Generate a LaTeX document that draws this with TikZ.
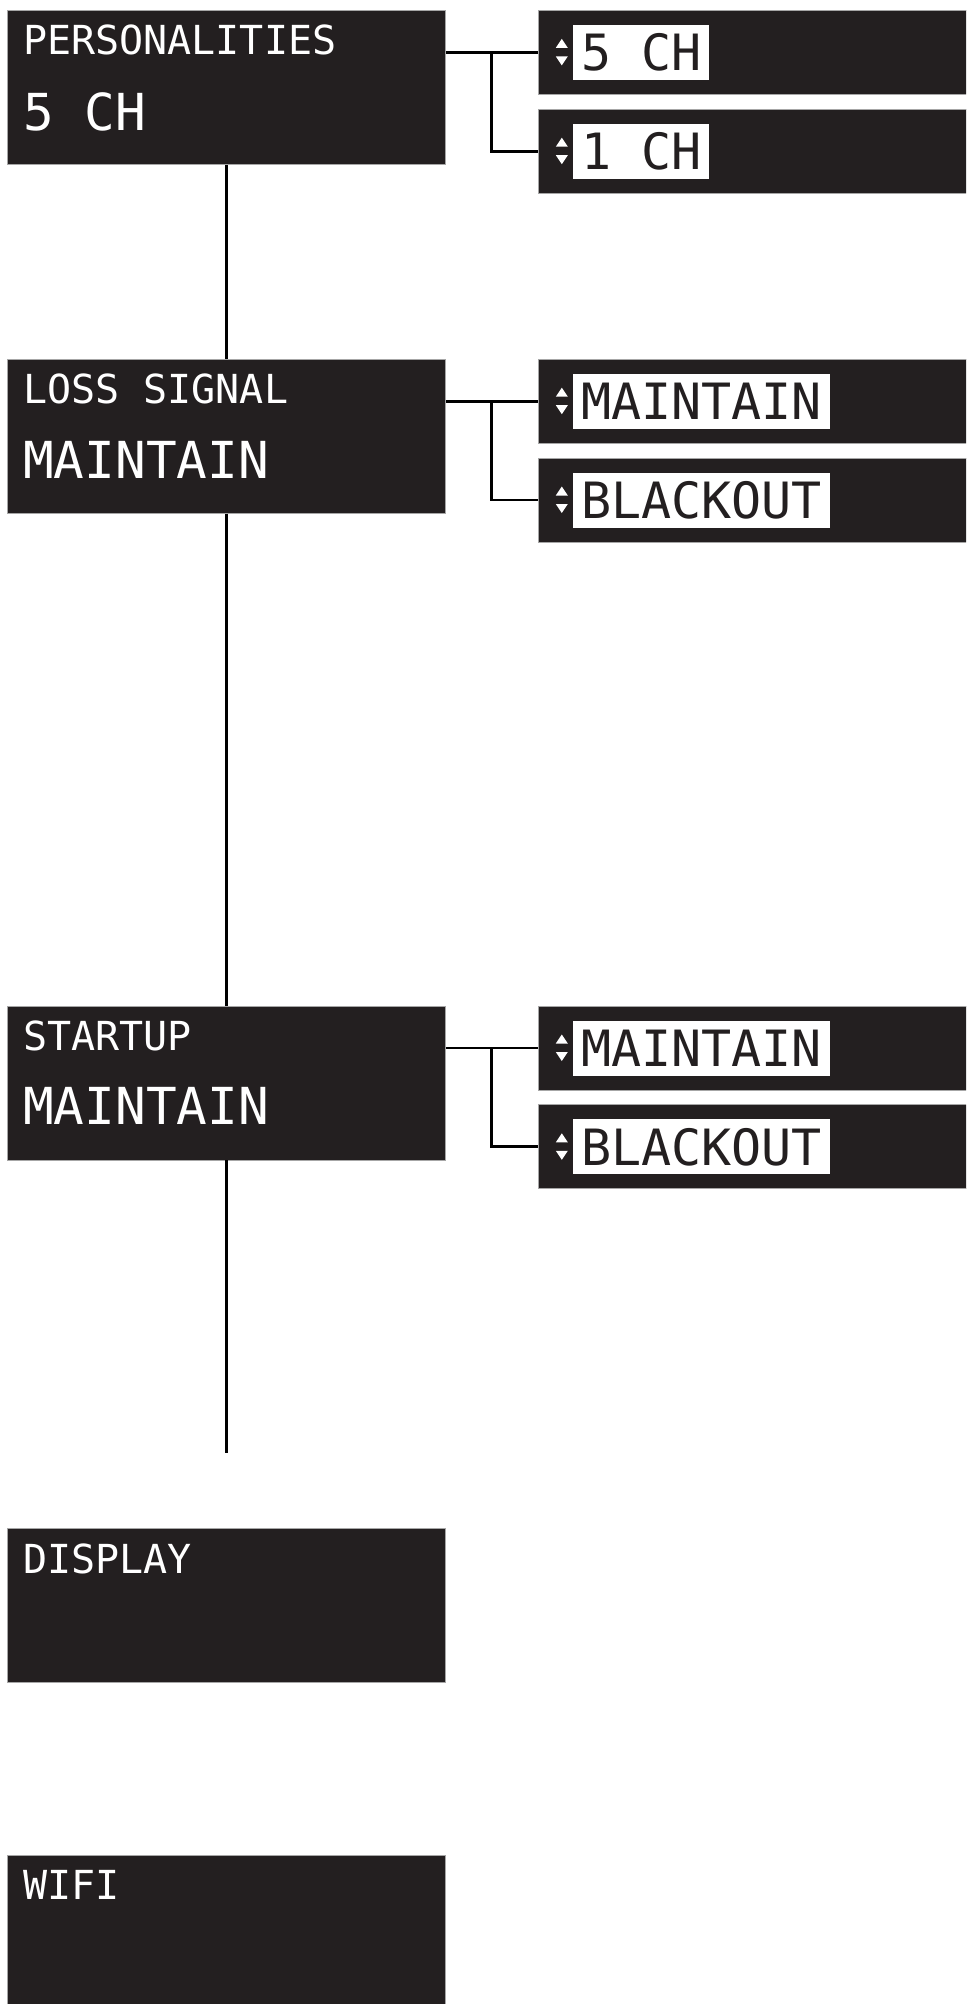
\documentclass[tikz,border=0pt]{standalone}
\usepackage{fontspec}
\usepackage{xcolor}
\usetikzlibrary{positioning,calc}
\newfontfamily\lcd{DejaVu Sans Mono}
\definecolor{lcdbg}{HTML}{231F20}

\begin{document}
\begin{tikzpicture}[
  x=1pt, y=-1pt,
  menu/.style={fill=lcdbg, draw=black!35, line width=0.8pt, minimum width=438pt, minimum height=154pt, inner sep=0pt},
  opt/.style={fill=lcdbg, draw=black!35, line width=0.8pt, minimum width=440pt, minimum height=84pt, inner sep=0pt},
  ttl/.style={inner sep=0pt, text=white, font=\lcd\fontsize{40}{40}\selectfont},
  val/.style={inner sep=0pt, text=white, font=\lcd\fontsize{51}{51}\selectfont},
  pick/.style={fill=white, text=lcdbg, inner xsep=8pt, inner ysep=0pt, minimum height=55pt, font=\lcd\fontsize{50}{50}\selectfont},
  link/.style={line width=2.8pt},
]
\path[use as bounding box, clip] (0,0) rectangle (966,2004);

% menu screens
\node[menu, anchor=north west] (m1) at (7,10) {};
\node[menu, below=194pt of m1] (m2) {};
\node[menu, below=492pt of m2] (m3) {};
\node[menu, below=368pt of m3] (m4) {};
\node[menu, below=172pt of m4] (m5) {};

\node[ttl, below right=15pt and 16pt of m1.north west] (t1) {PERSONALITIES};
\node[val, below right=82pt and 16pt of m1.north west] (v1) {5 CH};
\node[ttl, below right=15pt and 16pt of m2.north west] (t2) {LOSS SIGNAL};
\node[val, below right=82pt and 16pt of m2.north west] (v2) {MAINTAIN};
\node[ttl, below right=15pt and 16pt of m3.north west] (t3) {STARTUP};
\node[val, below right=82pt and 16pt of m3.north west] (v3) {MAINTAIN};
\node[ttl, below right=15pt and 16pt of m4.north west] (t4) {DISPLAY};
\node[ttl, below right=15pt and 16pt of m5.north west] (t5) {WIFI};

% option screens
\node[opt, below right=0pt and 92pt of m1.north east] (o1a) {};
\node[opt, below=14pt of o1a] (o1b) {};
\node[opt, below right=0pt and 92pt of m2.north east] (o2a) {};
\node[opt, below=14pt of o2a] (o2b) {};
\node[opt, below right=0pt and 92pt of m3.north east] (o3a) {};
\node[opt, below=14pt of o3a] (o3b) {};

\node[pick, right=35pt of o1a.west] (p1a) {5 CH};
\node[pick, right=35pt of o1b.west] (p1b) {1 CH};
\node[pick, right=35pt of o2a.west] (p2a) {MAINTAIN};
\node[pick, right=35pt of o2b.west] (p2b) {BLACKOUT};
\node[pick, right=35pt of o3a.west] (p3a) {MAINTAIN};
\node[pick, right=35pt of o3b.west] (p3b) {BLACKOUT};

\foreach \o in {o1a,o1b,o2a,o2b,o3a,o3b} {
  \fill[white] ($(\o.west)+(18,-4.5)$) -- ++(12,0) -- ++(-6,-9) -- cycle;
  \fill[white] ($(\o.west)+(18,4)$) -- ++(12,0) -- ++(-6,9) -- cycle;
}

% connectors
\coordinate[below=293pt of m3.south] (e3);
\draw[link] (m1) -- (m2);
\draw[link] (m2) -- (m3);
\draw[link] (m3.south) -- (e3);
\foreach \m/\a/\b in {m1/o1a/o1b, m2/o2a/o2b, m3/o3a/o3b} {
  \draw[link] (\m.east |- \a.west) -- (\a.west);
  \draw[link] ($(\m.east |- \a.west)!0.5!(\a.west)$) |- (\b.west);
}
\end{tikzpicture}
\end{document}
